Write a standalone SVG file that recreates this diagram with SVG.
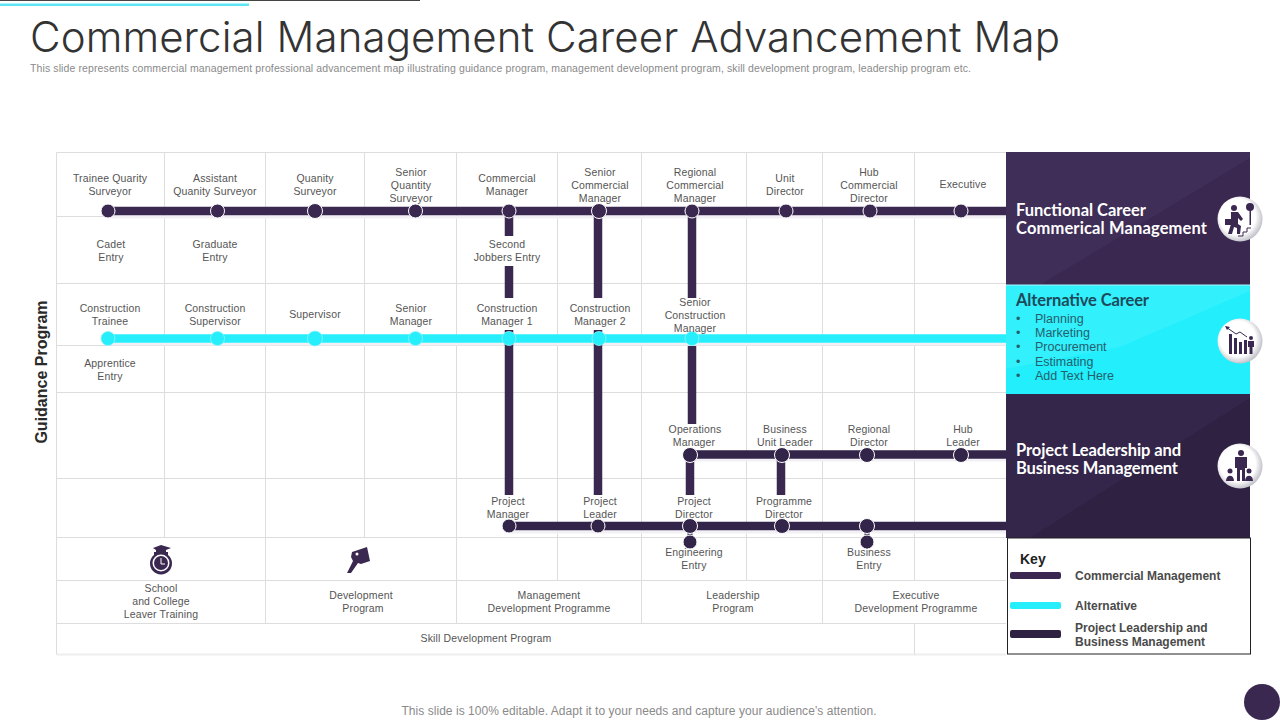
<svg xmlns="http://www.w3.org/2000/svg" width="1280" height="720" viewBox="0 0 1280 720">
<defs>
<radialGradient id="disc" cx="45%" cy="45%" r="55%"><stop offset="0.72" stop-color="#ffffff"/><stop offset="1" stop-color="#c4c4cc"/></radialGradient>
<style>
text{font-family:"Liberation Sans",Arial,sans-serif}
.g{stroke:#dddddd;stroke-width:1;fill:none}
.t{font-size:10.5px;fill:#555;text-anchor:middle;letter-spacing:.15px}
.c1{stroke:#3a2850;stroke-width:8.5;fill:none}
.c2{stroke:#33244a;stroke-width:8.5;fill:none}
.a{stroke:#27eefb;stroke-width:8.5;fill:none}
.v{stroke:#3a2850;stroke-width:8.5;fill:none}
.sh{stroke:#f2f0f5;stroke-width:3;fill:none}
.d{fill:#3a2850;stroke:#fff;stroke-width:1}
.d2{fill:#33244a;stroke:#fff;stroke-width:1}
.dc{fill:#27eefb;stroke:#8af5fc;stroke-width:.8}
.h{font-family:Lato,"Liberation Sans",sans-serif;font-weight:700;font-size:16.5px;fill:#fff}
.li{font-size:12.5px;fill:#24606c}
.k{font-size:12px;font-weight:700;fill:#4a4a4a}
.ic{fill:#3a2850}
</style>
</defs>
<rect width="1280" height="720" fill="#fff"/>
<rect x="0" y="0" width="420" height="1" fill="#444"/>
<rect x="0" y="3.500" width="249" height="2.500" fill="#5fe6f5"/>
<text x="30" y="52" font-size="42" fill="#333" textLength="1030" lengthAdjust="spacing" style="font-family:Inter,'Liberation Sans',sans-serif;font-weight:300">Commercial Management Career Advancement Map</text>
<text x="30" y="72" font-size="10.500" fill="#8a8a8a" textLength="941" lengthAdjust="spacing">This slide represents commercial management  professional advancement map illustrating guidance program, management development program, skill development program, leadership program etc.</text>
<text x="639" y="715" font-size="12" fill="#8a8a8a" text-anchor="middle" textLength="475" lengthAdjust="spacing">This slide is 100% editable. Adapt it to your needs and capture your audience’s attention.</text>
<circle cx="1262" cy="702" r="18" fill="#3a2850"/>
<text transform="translate(46.500 372) rotate(-90)" font-size="16" font-weight="700" fill="#2a2a2a" text-anchor="middle">Guidance Program</text>

<g id="grid" class="g">
<path d="M56.500 152.500H1006M56.500 216.500H1006M56.500 283.500H1006M56.500 345.500H1006M56.500 392.500H1006M56.500 478.500H1006M56.500 537.500H1006M56.500 580.500H1006M56.500 623.500H1006"/>
<path d="M56.500 654.500H1006" stroke="#eeeeee" stroke-width="2"/>
<path d="M56.500 152.500V654.500M164.500 152.500V537.500M265.500 152.500V623.500M364.500 152.500V537.500M456.500 152.500V623.500M557.500 152.500V580.500M641.500 152.500V623.500M746.500 152.500V580.500M822.500 152.500V623.500M914.500 152.500V580.500M914.500 623.500V654.500"/>
</g>

<g id="connectors">
<path class="sh" d="M108 217H1006M108 344H1006M690 460H1006M509 532H1006"/>
<path class="v" d="M509 211V236M509 266V298M509 330V495M598 211V298M598 330V495M692 211V298M692 346V424M690 454V495M781 454V495"/>
<path class="c1" d="M108 211H1006"/>
<path class="a" d="M108 338.500H1006"/>
<path class="c2" d="M690 454.500H1006M509 526H1006"/>
<path d="M690 530V540M867 530V540" stroke="#33244a" stroke-width="5" fill="none"/>
</g>

<g id="n-trainee"><circle class="d" cx="108" cy="211" r="7"/><text class="t" x="110" y="182">Trainee Quarity</text><text class="t" x="110" y="195">Surveyor</text></g>
<g id="n-assistant"><circle class="d" cx="217.500" cy="211" r="7"/><text class="t" x="215" y="182">Assistant</text><text class="t" x="215" y="195">Quanity Surveyor</text></g>
<g id="n-quanity"><circle class="d" cx="315" cy="211" r="7.500"/><text class="t" x="315" y="182">Quanity</text><text class="t" x="315" y="195">Surveyor</text></g>
<g id="n-senior-qs"><circle class="d" cx="415.500" cy="211" r="7"/><text class="t" x="411" y="176">Senior</text><text class="t" x="411" y="189">Quantity</text><text class="t" x="411" y="202">Surveyor</text></g>
<g id="n-commercial"><circle class="d" cx="509" cy="211" r="7"/><text class="t" x="507" y="182">Commercial</text><text class="t" x="507" y="195">Manager</text></g>
<g id="n-senior-cm"><circle class="d" cx="599" cy="211" r="7.500"/><text class="t" x="600" y="176">Senior</text><text class="t" x="600" y="189">Commercial</text><text class="t" x="600" y="202">Manager</text></g>
<g id="n-regional-cm"><circle class="d" cx="692" cy="211" r="7"/><text class="t" x="695" y="176">Regional</text><text class="t" x="695" y="189">Commercial</text><text class="t" x="695" y="202">Manager</text></g>
<g id="n-unit"><circle class="d" cx="786" cy="211" r="7"/><text class="t" x="785" y="182">Unit</text><text class="t" x="785" y="195">Director</text></g>
<g id="n-hub-cd"><circle class="d" cx="870" cy="211" r="7"/><text class="t" x="869" y="176">Hub</text><text class="t" x="869" y="189">Commercial</text><text class="t" x="869" y="202">Director</text></g>
<g id="n-exec"><circle class="d" cx="961" cy="211" r="7"/><text class="t" x="963" y="188">Executive</text></g>

<g id="n-cadet"><text class="t" x="111" y="248">Cadet</text><text class="t" x="111" y="261">Entry</text></g>
<g id="n-graduate"><text class="t" x="215" y="248">Graduate</text><text class="t" x="215" y="261">Entry</text></g>
<g id="n-second"><text class="t" x="507" y="248">Second</text><text class="t" x="507" y="261">Jobbers Entry</text></g>

<g id="n-ctrainee"><circle class="dc" cx="108" cy="338.500" r="7"/><text class="t" x="110" y="312">Construction</text><text class="t" x="110" y="325">Trainee</text></g>
<g id="n-csup"><circle class="dc" cx="217.500" cy="338.500" r="7"/><text class="t" x="215" y="312">Construction</text><text class="t" x="215" y="325">Supervisor</text></g>
<g id="n-sup"><circle class="dc" cx="315" cy="338.500" r="7.500"/><text class="t" x="315" y="318">Supervisor</text></g>
<g id="n-smgr"><circle class="dc" cx="415.500" cy="338.500" r="7"/><text class="t" x="411" y="312">Senior</text><text class="t" x="411" y="325">Manager</text></g>
<g id="n-cm1"><rect x="505" y="330" width="8" height="4" fill="#33244a"/><circle class="dc" cx="509" cy="338.500" r="7"/><text class="t" x="507" y="312">Construction</text><text class="t" x="507" y="325">Manager 1</text></g>
<g id="n-cm2"><rect x="594" y="330" width="8" height="4" fill="#33244a"/><circle class="dc" cx="599" cy="338.500" r="7"/><text class="t" x="600" y="312">Construction</text><text class="t" x="600" y="325">Manager 2</text></g>
<g id="n-scm"><circle class="dc" cx="692" cy="338.500" r="7"/><text class="t" x="695" y="306">Senior</text><text class="t" x="695" y="319">Construction</text><text class="t" x="695" y="332">Manager</text></g>
<g id="n-apprentice"><text class="t" x="110" y="367">Apprentice</text><text class="t" x="110" y="380">Entry</text></g>

<g id="n-ops"><circle class="d2" cx="690" cy="455" r="7.500"/><text class="t" x="695" y="433">Operations</text><text class="t" x="694" y="446">Manager</text></g>
<g id="n-bul"><circle class="d2" cx="782" cy="455" r="7.500"/><text class="t" x="785" y="433">Business</text><text class="t" x="785" y="446">Unit Leader</text></g>
<g id="n-rd"><circle class="d2" cx="867" cy="455" r="7.500"/><text class="t" x="869" y="433">Regional</text><text class="t" x="869" y="446">Director</text></g>
<g id="n-hl"><circle class="d2" cx="961" cy="455" r="7.500"/><text class="t" x="963" y="433">Hub</text><text class="t" x="963" y="446">Leader</text></g>
<g id="n-pm"><circle class="d2" cx="509" cy="526" r="7"/><text class="t" x="508" y="505">Project</text><text class="t" x="508" y="518">Manager</text></g>
<g id="n-pl"><circle class="d2" cx="598" cy="526" r="7"/><text class="t" x="600" y="505">Project</text><text class="t" x="600" y="518">Leader</text></g>
<g id="n-pd"><circle class="d2" cx="690" cy="526" r="7.500"/><text class="t" x="694" y="505">Project</text><text class="t" x="694" y="518">Director</text></g>
<g id="n-progd"><circle class="d2" cx="782" cy="526" r="7.500"/><text class="t" x="784" y="505">Programme</text><text class="t" x="784" y="518">Director</text></g>
<g id="n-bn"><circle class="d2" cx="867" cy="526" r="7.500"/></g>
<g id="n-eng"><circle class="d2" cx="690" cy="542" r="7"/><text class="t" x="694" y="556">Engineering</text><text class="t" x="694" y="569">Entry</text></g>
<g id="n-bus"><circle class="d2" cx="867" cy="542" r="7"/><text class="t" x="869" y="556">Business</text><text class="t" x="869" y="569">Entry</text></g>

<g id="p-school"><path class="ic" d="M153 548L161 545L171 548L166 550V552H168V555A11 11 0 1 1 154 555V552H156V550Z"/><circle cx="161" cy="563" r="8.500" fill="#fff"/><circle cx="161" cy="563" r="7" fill="#3a2850"/><path d="M161 558V564H165" stroke="#fff" fill="none"/><text class="t" x="161" y="592">School</text><text class="t" x="161" y="605">and College</text><text class="t" x="161" y="618">Leaver Training</text></g>
<g id="p-dev"><path class="ic" d="M352 552L358 550L367 547L370 561L361 564L358 563L351 573L347 573L353 561L351 557Z"/><circle cx="357" cy="554" r="1.500" fill="#fff"/><text class="t" x="361" y="599">Development</text><text class="t" x="363" y="612">Program</text></g>
<g id="p-mgmt"><text class="t" x="549" y="599">Management</text><text class="t" x="549" y="612">Development Programme</text></g>
<g id="p-lead"><text class="t" x="733" y="599">Leadership</text><text class="t" x="733" y="612">Program</text></g>
<g id="p-exec"><text class="t" x="916" y="599">Executive</text><text class="t" x="916" y="612">Development Programme</text></g>
<g id="p-skill"><text class="t" x="486" y="642">Skill Development  Program</text></g>

<g id="panel-functional">
<rect x="1006" y="152" width="244" height="133" fill="#3a2850"/>
<path d="M1006 285V152H1250V158L1040 285Z" fill="#3f2e57"/>
<text class="h" x="1016" y="216" textLength="130" lengthAdjust="spacing">Functional Career</text>
<text class="h" x="1016" y="234" textLength="191" lengthAdjust="spacing">Commerical Management</text>
<circle cx="1240" cy="219" r="22.500" fill="url(#disc)"/>
<g class="ic"><circle cx="1234" cy="208" r="3"/><path d="M1231 212L1238 212L1243 219L1241 221L1238 218L1238 224L1241 226L1240 234L1237 234L1237 228L1234 227L1232 234L1228 234L1231 224Z"/><rect x="1225" y="219" width="7" height="6"/><rect x="1249.500" y="208" width="1.500" height="17"/><circle cx="1250" cy="207" r="4"/><path d="M1238 236H1243V232H1247V228H1251" fill="none" stroke="#3a2850"/></g>
</g>
<g id="panel-alt">
<rect x="1006" y="285" width="244" height="108" fill="#22eefc"/>
<path d="M1006 369V285H1250V291L1120 347Z" fill="#33f0fd"/>
<rect x="1006" y="284.500" width="244" height="1" fill="#a5f7fd"/>
<text class="h" x="1016" y="306" textLength="133" lengthAdjust="spacing" style="fill:#1d4a5a">Alternative Career</text>
<g class="li"><text x="1016" y="323">•</text><text x="1035" y="323">Planning</text><text x="1016" y="337">•</text><text x="1035" y="337">Marketing</text><text x="1016" y="351">•</text><text x="1035" y="351">Procurement</text><text x="1016" y="366">•</text><text x="1035" y="366">Estimating</text><text x="1016" y="380">•</text><text x="1035" y="380">Add Text Here</text></g>
<circle cx="1240" cy="341" r="22.500" fill="url(#disc)"/>
<g class="ic"><rect x="1229" y="334" width="3" height="20"/><rect x="1234" y="338" width="3" height="16"/><rect x="1239" y="342" width="3" height="12"/><rect x="1244" y="340" width="3" height="14"/><circle cx="1251" cy="338" r="2"/><path d="M1248 341H1254V347H1252.500V354H1249.500V347H1248Z"/><path d="M1226 327L1236 334L1240 332L1247 337" fill="none" stroke="#3a2850"/><path d="M1225 326L1230 327L1227 330Z"/></g>
</g>
<g id="panel-project">
<rect x="1006" y="393" width="244" height="145" fill="#2f2142"/>
<path d="M1006 538V393H1250V398L1030 538Z" fill="#34254a"/>
<rect x="1006" y="391" width="244" height="3" fill="#22eefc"/>
<text class="h" x="1016" y="456" textLength="165" lengthAdjust="spacing">Project Leadership and</text>
<text class="h" x="1016" y="474" textLength="162" lengthAdjust="spacing">Business Management</text>
<circle cx="1240" cy="466" r="22.500" fill="url(#disc)"/>
<g class="ic"><circle cx="1241" cy="453" r="3"/><path d="M1235 457H1247V468H1245V481H1242V470H1240V481H1237V468H1235Z"/><circle cx="1230" cy="471" r="2.500"/><path d="M1226 481C1226 474 1234 474 1234 481Z"/><circle cx="1249" cy="471" r="2.500"/><path d="M1245 481C1245 474 1253 474 1253 481Z"/></g>
</g>
<g id="key">
<rect x="1007.500" y="538" width="243" height="116" fill="#fff" stroke="#222" stroke-width="1"/>
<text x="1020" y="564" font-size="14" font-weight="700" fill="#222">Key</text>
<rect x="1010" y="572" width="51" height="7" rx="2" fill="#3a2850"/>
<rect x="1010" y="602" width="51" height="7" rx="2" fill="#27eefb"/>
<rect x="1010" y="630" width="51" height="8" rx="2" fill="#2f2142"/>
<text class="k" x="1075" y="580">Commercial Management</text>
<text class="k" x="1075" y="610">Alternative</text>
<text class="k" x="1075" y="632">Project Leadership and</text>
<text class="k" x="1075" y="646">Business Management</text>
</g>
</svg>
